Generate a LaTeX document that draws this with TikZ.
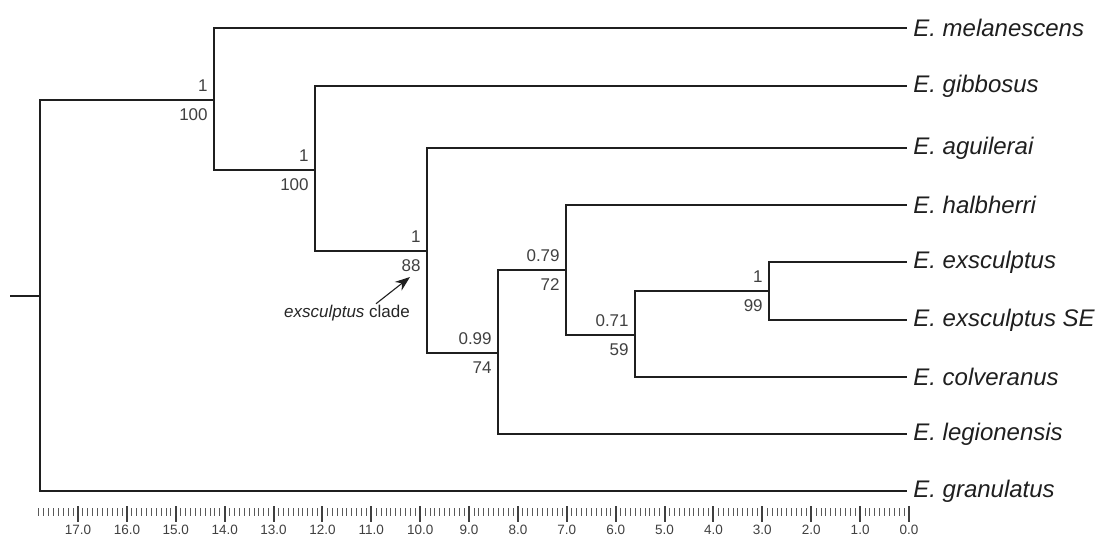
\documentclass[tikz,border=0pt]{standalone}
\usepackage{fontspec}
\setmainfont{Liberation Sans}
\usetikzlibrary{arrows.meta}

\begin{document}
\begin{tikzpicture}[x=1pt, y=-1pt, line width=2.7pt, color=black!88,
    every node/.style={inner sep=0pt},
    taxon/.style={anchor=west, inner xsep=5pt, font=\fontsize{24}{27}\selectfont\itshape, text=black!88},
    post/.style={anchor=south east, xshift=-5pt, yshift=7pt, font=\fontsize{17}{20}\selectfont, text=black!75},
    boot/.style={anchor=north east, xshift=-5pt, yshift=-7pt, font=\fontsize{17}{20}\selectfont, text=black!75},
    minortick/.style={line width=0.9pt, black!65},
    majortick/.style={line width=2pt, black!75}]
  \useasboundingbox (0,0) rectangle (1108,541);

  % taxa
  \node[taxon] (mel) at (907,28)  {E. melanescens};
  \node[taxon] (gib) at (907,86)  {E. gibbosus};
  \node[taxon] (agu) at (907,148) {E. aguilerai};
  \node[taxon] (hal) at (907,205) {E. halbherri};
  \node[taxon] (exs) at (907,262) {E. exsculptus};
  \node[taxon] (exsSE) at (907,320) {E. exsculptus SE};
  \node[taxon] (col) at (907,377) {E. colveranus};
  \node[taxon] (leg) at (907,434) {E. legionensis};
  \node[taxon] (gra) at (907,491) {E. granulatus};

  % internal nodes
  \coordinate (stub) at (10,296);
  \coordinate (root) at (40,296);
  \coordinate (A) at (214,100);
  \coordinate (B) at (315,170);
  \coordinate (C) at (427,251);
  \coordinate (D) at (498,353);
  \coordinate (E) at (566,270);
  \coordinate (F) at (635,335);
  \coordinate (G) at (769,291);

  \draw (stub) -- (root);
  \draw (root) |- (A);  \draw (root) |- (gra.west);
  \draw (A) |- (mel.west);  \draw (A) |- (B);
  \draw (B) |- (gib.west);  \draw (B) |- (C);
  \draw (C) |- (agu.west);  \draw (C) |- (D);
  \draw (D) |- (E);  \draw (D) |- (leg.west);
  \draw (E) |- (hal.west);  \draw (E) |- (F);
  \draw (F) |- (G);  \draw (F) |- (col.west);
  \draw (G) |- (exs.west);  \draw (G) |- (exsSE.west);

  % support values
  \node[post] (pA) at (A) {1};     \node[boot] (bA) at (A) {100};
  \node[post] (pB) at (B) {1};     \node[boot] (bB) at (B) {100};
  \node[post] (pC) at (C) {1};     \node[boot] (bC) at (C) {88};
  \node[post] (pD) at (D) {0.99};  \node[boot] (bD) at (D) {74};
  \node[post] (pE) at (E) {0.79};  \node[boot] (bE) at (E) {72};
  \node[post] (pF) at (F) {0.71};  \node[boot] (bF) at (F) {59};
  \node[post] (pG) at (G) {1};     \node[boot] (bG) at (G) {99};

  % clade pointer
  \node[font=\fontsize{17}{20}\selectfont, text=black!85] (clade) at (347,313) {\emph{exsculptus} clade};
  \coordinate (cladetip) at (410,277);
  \draw[line width=1.1pt, -{Stealth[length=15pt, width=11pt]}] ([xshift=29pt]clade.north) -- (cladetip);

  % time scale
  \foreach \i in {0,...,178}
    \draw[minortick] (909-4.888*\i,508) -- ++(0,8);
  \foreach \t in {0,...,17}
    \draw[majortick] (909-48.88*\t,506) -- ++(0,16)
      node[anchor=north, yshift=-2pt, font=\fontsize{13.5}{15}\selectfont, text=black!75] (t\t) {\t.0};
\end{tikzpicture}
\end{document}
